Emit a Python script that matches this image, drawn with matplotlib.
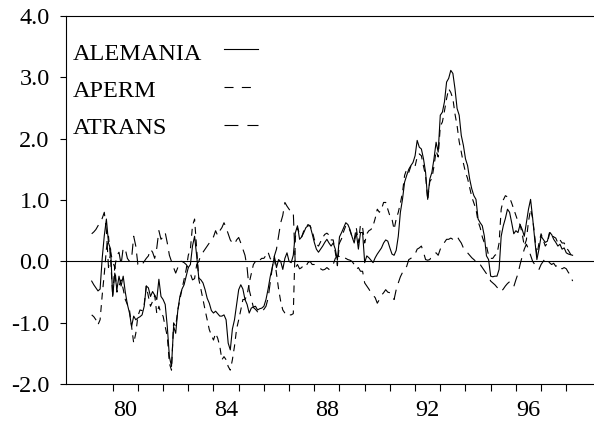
import pandas as pd
import matplotlib
matplotlib.use("Agg")
import matplotlib.pyplot as plt

plt.rcParams['font.family'] = ['Liberation Serif', 'DejaVu Serif']
plt.rcParams['axes.unicode_minus'] = False
plt.rcParams['lines.scale_dashes'] = False

# monthly observations, 1979:03 - 1998:04
dates = pd.period_range("1979-03", "1998-04", freq="M")

alemania = [
    -0.32, -0.38, -0.43, -0.48, -0.45, 0.05, 0.42, 0.69, 0.30, 0.20,
    -0.57, -0.19, -0.46, -0.24, -0.40, -0.24, -0.50, -0.70, -0.84, -1.06, -0.89, -0.95,
    -0.92, -0.90, -0.87, -0.73, -0.40, -0.43, -0.57, -0.49, -0.55, -0.62, -0.29, -0.57,
    -0.62, -0.70, -1.06, -1.55, -1.71, -1.06, -1.17, -0.80, -0.57, -0.45, -0.38, -0.24,
    -0.10, -0.05, 0.25, 0.41, 0.09, -0.27, -0.30, -0.35, -0.46, -0.60, -0.68, -0.80,
    -0.84, -0.81, -0.85, -0.89, -0.89, -0.87, -0.95, -1.33, -1.44, -1.10, -0.95, -0.70,
    -0.46, -0.38, -0.45, -0.62, -0.70, -0.84, -0.76, -0.74, -0.73, -0.79, -0.77, -0.76,
    -0.73, -0.62, -0.45, -0.25, -0.10, 0.08, -0.10, 0.03, 0.00, -0.13, 0.05, 0.14,
    0.00, -0.02, 0.10, 0.47, 0.58, 0.36, 0.40, 0.47, 0.55, 0.58, 0.58, 0.45,
    0.31, 0.20, 0.15, 0.20, 0.25, 0.31, 0.36, 0.30, 0.25, 0.30, 0.20, 0.02,
    0.40, 0.47, 0.55, 0.63, 0.60, 0.52, 0.40, 0.30, 0.47, 0.20, 0.47, 0.47,
    -0.02, 0.09, 0.06, 0.02, -0.02, 0.06, 0.12, 0.17, 0.22, 0.30, 0.35, 0.33,
    0.22, 0.12, 0.10, 0.18, 0.41, 0.80, 1.01, 1.29, 1.40, 1.50, 1.56, 1.61,
    1.72, 1.97, 1.86, 1.83, 1.67, 1.45, 1.01, 1.34, 1.45, 1.67, 1.94, 1.78,
    2.38, 2.43, 2.60, 2.92, 2.98, 3.11, 3.06, 2.81, 2.49, 2.38, 2.05, 1.89,
    1.67, 1.56, 1.34, 1.18, 1.07, 1.01, 0.69, 0.63, 0.58, 0.41, 0.09, 0.03,
    -0.24, -0.25, -0.24, -0.24, -0.13, 0.41, 0.58, 0.70, 0.85, 0.80, 0.63, 0.45,
    0.50, 0.47, 0.60, 0.52, 0.41, 0.63, 0.85, 1.01, 0.70, 0.35, 0.03, 0.20,
    0.41, 0.36, 0.31, 0.33, 0.47, 0.44, 0.36, 0.31, 0.25, 0.28, 0.20, 0.22,
    0.14, 0.12, 0.11, 0.10,
]

aperm = [
    -0.87, -0.90, -0.95, -1.03, -0.95, -0.55, -0.20, 0.20, 0.41, 0.05,
    -0.57, -0.08, -0.50, -0.40, -0.30, -0.45, -0.62, -0.70, -0.79, -1.06, -1.33, -1.17,
    -0.89, -0.79, -0.80, -0.70, -0.40, -0.57, -0.73, -0.65, -0.55, -0.85, -0.73, -0.85,
    -0.89, -1.06, -1.22, -1.66, -1.77, -1.00, -1.06, -0.79, -0.62, -0.45, -0.29, -0.13,
    0.10, 0.20, 0.58, 0.69, 0.20, -0.29, -0.45, -0.62, -0.79, -0.95, -1.11, -1.20,
    -1.28, -1.17, -1.25, -1.38, -1.60, -1.55, -1.60, -1.71, -1.77, -1.60, -1.38, -1.10,
    -0.95, -0.79, -0.62, -0.62, -0.55, -0.35, -0.20, -0.05, 0.00, 0.03, 0.02, 0.05,
    0.05, 0.10, 0.15, 0.05, 0.00, 0.05, -0.20, -0.45, -0.65, -0.79, -0.84, -0.87,
    -0.87, -0.87, -0.85, 0.40, 0.55, 0.45, 0.40, 0.50, 0.55, 0.60, 0.58, 0.50,
    0.36, 0.28, 0.25, 0.32, 0.39, 0.44, 0.46, 0.43, 0.35, 0.35, 0.15, -0.07,
    0.30, 0.37, 0.49, 0.58, 0.57, 0.50, 0.40, 0.35, 0.55, 0.30, 0.60, 0.55,
    0.30, 0.45, 0.50, 0.52, 0.58, 0.70, 0.85, 0.80, 0.85, 0.96, 0.96, 0.85,
    0.74, 0.69, 0.52, 0.69, 0.80, 0.95, 1.12, 1.40, 1.50, 1.45, 1.55, 1.52,
    1.55, 1.70, 1.75, 1.72, 1.55, 1.40, 1.00, 1.30, 1.35, 1.55, 1.80, 1.70,
    2.20, 2.27, 2.45, 2.65, 2.81, 2.75, 2.65, 2.40, 2.21, 1.95, 1.78, 1.60,
    1.45, 1.35, 1.20, 1.05, 0.95, 0.85, 0.65, 0.55, 0.40, 0.30, 0.25, 0.10,
    0.05, 0.05, 0.10, 0.12, 0.30, 0.85, 1.00, 1.07, 1.05, 1.04, 0.95, 0.85,
    0.75, 0.65, 0.60, 0.45, 0.25, 0.35, 0.65, 0.85, 0.70, 0.40, 0.10, 0.30,
    0.45, 0.35, 0.25, 0.30, 0.45, 0.48, 0.40, 0.38, 0.30, 0.35, 0.30, 0.30,
    0.22, 0.18, 0.12, 0.08,
]

atrans = [
    0.45, 0.48, 0.52, 0.58, 0.65, 0.70, 0.80, 0.50, -0.10, 0.15,
    0.00, -0.10, 0.10, 0.15, -0.05, 0.22, 0.20, 0.05, 0.00, 0.05, 0.41, 0.25,
    -0.05, -0.08, -0.05, 0.00, 0.05, 0.09, 0.20, 0.15, 0.05, 0.22, 0.50, 0.36,
    0.40, 0.47, 0.30, 0.10, 0.00, -0.10, -0.19, -0.10, 0.00, 0.00, -0.02, -0.05,
    -0.10, -0.20, -0.30, -0.28, -0.05, 0.00, 0.11, 0.15, 0.20, 0.25, 0.30, 0.36,
    0.40, 0.50, 0.42, 0.50, 0.55, 0.63, 0.55, 0.45, 0.35, 0.30, 0.28, 0.35,
    0.39, 0.30, 0.20, 0.10, -0.10, -0.46, -0.60, -0.75, -0.78, -0.82, -0.80, -0.82,
    -0.78, -0.73, -0.60, -0.35, -0.10, 0.09, 0.20, 0.41, 0.63, 0.75, 0.96, 0.90,
    0.85, 0.80, 0.80, -0.10, -0.05, -0.12, -0.10, -0.05, -0.08, -0.02, 0.00, -0.05,
    -0.05, -0.08, -0.10, -0.12, -0.14, -0.13, -0.10, -0.13, -0.10, -0.05, 0.05, 0.09,
    0.08, 0.10, 0.06, 0.05, 0.03, 0.02, 0.00, -0.05, -0.13, -0.10, -0.16, -0.16,
    -0.35, -0.40, -0.45, -0.51, -0.55, -0.59, -0.68, -0.62, -0.55, -0.51, -0.46, -0.50,
    -0.51, -0.55, -0.62, -0.46, -0.35, -0.25, -0.18, -0.13, -0.08, 0.03, 0.05, 0.09,
    0.12, 0.20, 0.22, 0.25, 0.15, 0.03, 0.02, 0.03, 0.09, 0.12, 0.14, 0.10,
    0.20, 0.25, 0.31, 0.36, 0.36, 0.38, 0.36, 0.38, 0.41, 0.35, 0.30, 0.22,
    0.18, 0.14, 0.10, 0.06, 0.03, 0.00, 0.00, -0.05, -0.10, -0.15, -0.20, -0.25,
    -0.32, -0.35, -0.38, -0.42, -0.46, -0.49, -0.45, -0.40, -0.36, -0.33, -0.38, -0.41,
    -0.30, -0.20, -0.05, 0.08, 0.20, 0.28, 0.20, 0.10, 0.00, -0.05, -0.10, -0.13,
    -0.05, 0.00, 0.05, 0.02, -0.02, -0.05, -0.03, -0.08, -0.05, -0.10, -0.12, -0.10,
    -0.12, -0.18, -0.22, -0.32,
]

year_ticks = list(range(1980, 1999))
label_pos = [1980.5, 1984.5, 1988.5, 1992.5, 1996.5]
label_txt = ["80", "84", "88", "92", "96"]
y_ticks = [-2.0, -1.0, 0.0, 1.0, 2.0, 3.0, 4.0]

x = dates.year + (dates.month - 1) / 12.0

fig = plt.figure(figsize=(5.94, 4.23), dpi=100)
ax = fig.add_axes([0.1106, 0.0915, 0.8894, 0.8714])

ax.axhline(0, color="black", lw=0.8)
ax.plot(x, alemania, color="black", lw=0.8, ls="-")
ax.plot(x, aperm, color="black", lw=0.8, ls=(0, (5, 4)))
ax.plot(x, atrans, color="black", lw=0.8, ls=(0, (8, 5)))

ax.set_xlim(1978.135, 1999.1)
ax.set_ylim(-2.0, 4.0)

ax.set_xticks(year_ticks)
ax.set_xticklabels([])
ax.set_xticks(label_pos, minor=True)
ax.set_xticklabels(label_txt, minor=True)
ax.tick_params(axis="x", which="major", direction="out", length=5, width=0.8)
ax.tick_params(axis="x", which="minor", length=0, pad=11, labelsize=17.5)

ax.set_yticks(y_ticks)
ax.set_yticklabels([f"{v:.1f}" for v in y_ticks])
ax.tick_params(axis="y", direction="out", length=4.5, width=0.8, pad=7, labelsize=17.5)

ax.spines["right"].set_visible(False)
for s in ["left", "top", "bottom"]:
    ax.spines[s].set_linewidth(0.8)

# legend: label on the left, line sample on the right
legend_items = [("ALEMANIA", "-", 0.880, 0.910),
                ("APERM", (0, (6.5, 6)), 0.780, 0.807),
                ("ATRANS", (0, (10, 6.5)), 0.679, 0.704)]
for name, style, ty, ly in legend_items:
    ax.text(0.0138, ty, name, transform=ax.transAxes, fontsize=17.5,
            ha="left", va="baseline")
    ax.plot([0.2996, 0.364], [ly, ly], transform=ax.transAxes,
            color="black", lw=0.8, ls=style)

fig.savefig("out.png", dpi=100)
